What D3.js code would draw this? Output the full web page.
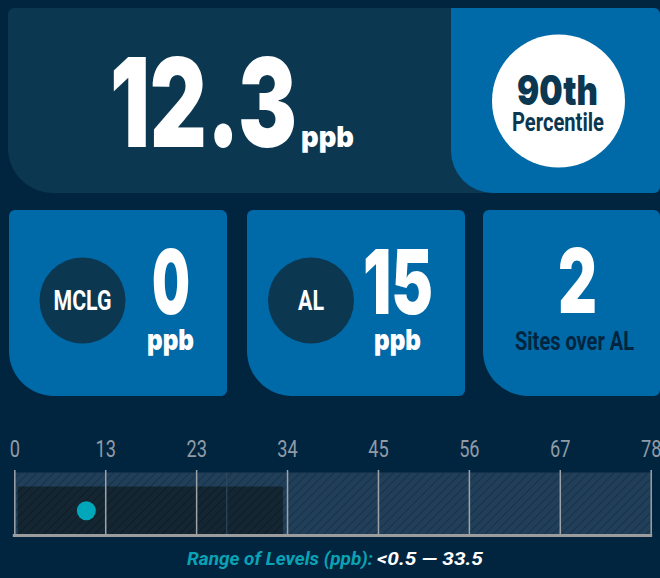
<!DOCTYPE html>
<html>
<head>
<meta charset="utf-8">
<script src="https://cdn.jsdelivr.net/npm/d3@7"></script>
<style>
  html, body { margin: 0; padding: 0; background: #02253f; }
  svg { display: block; font-family: Roboto, "Noto Sans", sans-serif; }
  .heavy { font-family: Inter, Roboto, sans-serif; }
</style>
</head>
<body>
<div id="chart"></div>
<script>
// values
const percentileValue = ['12.3']
const percentileLabel = ['90th', 'Percentile']
const cardLabels = ['MCLG', 'AL', 'Sites over AL']
const cardValues = ['0', '15', '2']
const cardUnits = ['ppb', 'ppb', '']
const tickValues = [0, 13, 23, 34, 45, 56, 67, 78]
const rangeLevels = [0.5, 33.5]
const sampleValues = [10.3]
const markerValues = [26.7]
const rangeText = ['Range of Levels (ppb):', '<0.5 \u2014 33.5']

const width = 660
const height = 578
const dark = '#0b3750'
const blue = '#0069a7'

const svg = d3.select('#chart').append('svg')
  .attr('width', width)
  .attr('height', height)

svg.append('rect').attr('width', width).attr('height', height).attr('fill', '#02253f')

// rounded box with its own radius per corner: tl, tr, br, bl
function box(x, y, w, h, r) {
  const [tl, tr, br, bl] = r
  const p = d3.path()
  p.moveTo(x + tl, y)
  p.lineTo(x + w - tr, y)
  p.arcTo(x + w, y, x + w, y + tr, tr)
  p.lineTo(x + w, y + h - br)
  p.arcTo(x + w, y + h, x + w - br, y + h, br)
  p.lineTo(x + bl, y + h)
  p.arcTo(x, y + h, x, y + h - bl, bl)
  p.lineTo(x, y + tl)
  p.arcTo(x, y, x + tl, y, tl)
  p.closePath()
  return p.toString()
}

// text squeezed to the width it has in the picture
function label(g, str, x, y, size, w, fill, weight) {
  return g.append('text')
    .attr('class', weight ? null : 'heavy')
    .attr('x', x)
    .attr('y', y)
    .attr('font-size', size)
    .attr('font-weight', weight || 900)
    .attr('textLength', w)
    .attr('lengthAdjust', 'spacingAndGlyphs')
    .attr('fill', fill)
    .text(str)
}

// headline panel
const headline = svg.append('g')
headline.append('path').attr('d', box(8, 8, 652, 185, [6, 6, 6, 45])).attr('fill', dark)
headline.append('path').attr('d', box(451, 8, 209, 185, [0, 6, 6, 42])).attr('fill', blue)
label(headline, percentileValue[0], 110, 147, 124, 187, '#fff')
label(headline, 'ppb', 301, 147, 29, 53, '#fff')
headline.append('circle').attr('cx', 558.5).attr('cy', 101).attr('r', 66.5).attr('fill', '#fff')
label(headline, percentileLabel[0], 517, 105, 41, 81, dark)
label(headline, percentileLabel[1], 512, 131, 25, 92, dark, 700)

// stat cards
const cardX = [9, 247, 483]
const cardW = [218, 218, 177]
const cards = svg.append('g')
cardLabels.forEach((name, i) => {
  const g = cards.append('g')
  g.append('path').attr('d', box(cardX[i], 210, cardW[i], 186, [6, 6, 6, 45])).attr('fill', blue)
  if (cardUnits[i]) {
    const cx = cardX[i] + (i === 0 ? 73.5 : 64)
    g.append('circle').attr('cx', cx).attr('cy', 300.5).attr('r', 43).attr('fill', dark)
    const lw = name.length > 2 ? 58 : 26
    label(g, name, cx - lw / 2, 310, 28, lw, '#fff', 700)
    const vx = i === 0 ? 152 : 363
    const vw = cardValues[i].length > 1 ? 70 : 38
    label(g, cardValues[i], vx, 314, 89, vw, '#fff')
    label(g, cardUnits[i], (i === 0 ? 147 : 374), 350, 29, 47, '#fff')
  } else {
    label(g, cardValues[i], 558, 313, 89, 39, '#fff')
    label(g, name, 515, 350, 25, 119, '#02253f', 700)
  }
})

// range strip
const x = d3.scaleLinear()
  .domain(tickValues)
  .range(tickValues.map(d3.scalePoint(tickValues, [14.3, 650.7])))

const defs = svg.append('defs')
function hatch(id, color) {
  const pat = defs.append('pattern')
    .attr('id', id)
    .attr('patternUnits', 'userSpaceOnUse')
    .attr('width', 6)
    .attr('height', 6)
    .attr('patternTransform', 'rotate(45)')
  pat.append('line')
    .attr('x1', 0).attr('y1', 0).attr('x2', 0).attr('y2', 6)
    .attr('stroke', color)
    .attr('stroke-width', 1.3)
}
hatch('hatchLight', '#112a40')
hatch('hatchDark', '#091620')

const strip = svg.append('g')
const x0 = x(tickValues[0])
const x1 = x(tickValues[tickValues.length - 1])
strip.append('rect')
  .attr('x', x0).attr('y', 472.5).attr('width', x1 - x0).attr('height', 61.5)
  .attr('fill', '#213f59')
strip.append('rect')
  .attr('x', x0).attr('y', 472.5).attr('width', x1 - x0).attr('height', 61.5)
  .attr('fill', 'url(#hatchLight)')

strip.append('rect')
  .attr('x', x(rangeLevels[0])).attr('y', 486.5)
  .attr('width', x(rangeLevels[1]) - x(rangeLevels[0])).attr('height', 47.5)
  .attr('fill', '#152633')
strip.append('rect')
  .attr('x', x(rangeLevels[0])).attr('y', 486.5)
  .attr('width', x(rangeLevels[1]) - x(rangeLevels[0])).attr('height', 47.5)
  .attr('fill', 'url(#hatchDark)')

strip.selectAll('.marker').data(markerValues)
  .enter().append('line')
    .attr('class', 'marker')
    .attr('x1', (d) => x(d)).attr('x2', (d) => x(d))
    .attr('y1', 472.5).attr('y2', 534)
    .attr('stroke', '#2b475d')
    .attr('stroke-width', 1.2)

const grid = strip.append('g')
  .attr('transform', 'translate(0, 534)')
  .call(d3.axisBottom(x).tickValues(tickValues).tickSize(-64).tickSizeOuter(0).tickFormat(''))
grid.selectAll('.tick line').attr('stroke', '#9ea3a8').attr('stroke-width', 1.5)
grid.select('.domain')
  .attr('d', `M${x0 - 1.5},1.5H${x1 + 1.5}`)
  .attr('stroke', '#9c9c9c')
  .attr('stroke-width', 3)

const labels = strip.append('g')
  .attr('transform', 'translate(0, 470)')
  .call(d3.axisTop(x).tickValues(tickValues).tickSize(0).tickPadding(13).tickFormat(d3.format('d')))
labels.select('.domain').remove()
labels.selectAll('text')
  .attr('fill', '#8f9ba6')
  .attr('font-size', 24)
  .attr('font-weight', 400)
  .attr('font-family', 'Roboto, sans-serif')
  .attr('transform', 'scale(0.76, 1)')

strip.selectAll('.dot').data(sampleValues)
  .enter().append('circle')
    .attr('class', 'dot')
    .attr('cx', (d) => x(d))
    .attr('cy', 510.7)
    .attr('r', 9.5)
    .attr('fill', '#00a6b9')

const caption = svg.append('g').attr('font-style', 'italic')
label(caption, rangeText[0], 187, 565, 18, 186, '#0aa3b6', 700)
label(caption, rangeText[1], 377, 565, 18, 106, '#fff', 700)
</script>
</body>
</html>
